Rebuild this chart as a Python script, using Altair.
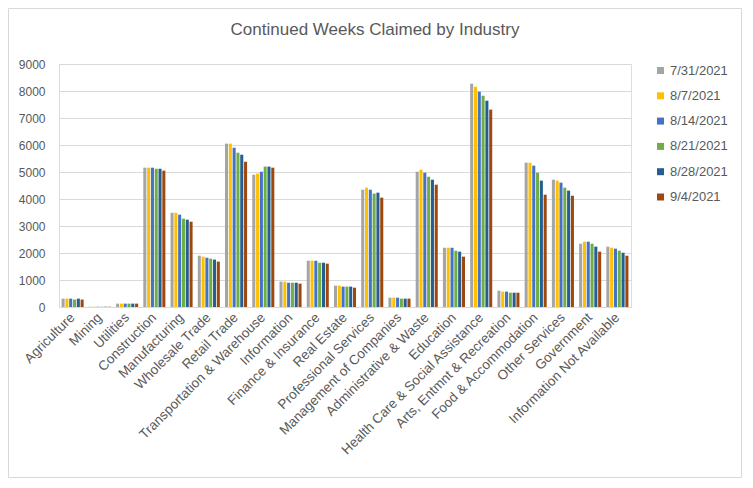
import altair as alt
import pandas as pd

industries = [
    "Agriculture", "Mining", "Utilities", "Construction", "Manufacturing",
    "Wholesale Trade", "Retail Trade", "Transportation & Warehouse",
    "Information", "Finance & Insurance", "Real Estate",
    "Professional Services", "Management of Companies",
    "Administrative & Waste", "Education", "Health Care & Social Assistance",
    "Arts, Entmnt & Recreation", "Food & Accommodation", "Other Services",
    "Government", "Information Not Available",
]
weeks = ["7/31/2021", "8/7/2021", "8/14/2021", "8/21/2021", "8/28/2021", "9/4/2021"]
colors = ["#A5A5A5", "#FFC000", "#4472C4", "#70AD47", "#255E91", "#9E480E"]
title_text = "Continued Weeks Claimed by Industry"

w_0731 = [310, 10, 125, 5160, 3490, 1900, 6050, 4900, 940, 1715, 790, 4345, 345, 5010, 2195, 8270, 605, 5345, 4715, 2345, 2235]
w_0807 = [310, 10, 125, 5160, 3490, 1865, 6050, 4940, 940, 1715, 790, 4420, 345, 5085, 2195, 8160, 570, 5345, 4680, 2420, 2195]
w_0814 = [310, 10, 125, 5160, 3420, 1825, 5900, 5010, 900, 1715, 755, 4345, 345, 4975, 2195, 7975, 570, 5235, 4605, 2420, 2160]
w_0821 = [275, 10, 125, 5120, 3270, 1790, 5715, 5200, 900, 1640, 755, 4200, 310, 4825, 2085, 7825, 530, 4975, 4420, 2345, 2085]
w_0828 = [310, 10, 125, 5120, 3235, 1755, 5640, 5200, 900, 1640, 755, 4235, 310, 4715, 2050, 7640, 530, 4680, 4310, 2235, 2010]
w_0904 = [275, 10, 125, 5050, 3160, 1680, 5380, 5160, 865, 1605, 715, 4050, 310, 4530, 1865, 7310, 530, 4160, 4125, 2050, 1900]

series = [w_0731, w_0807, w_0814, w_0821, w_0828, w_0904]

rows = []
for wk, vals in zip(weeks, series):
    for ind, v in zip(industries, vals):
        rows.append({"Industry": ind, "Week": wk, "Claims": v})
df = pd.DataFrame(rows)

FONT = "Liberation Sans"
GREY = "#595959"

bars = alt.Chart(df).mark_bar().encode(
    x=alt.X("Industry:N", sort=industries,
            scale=alt.Scale(paddingInner=0.19, paddingOuter=0.095),
            axis=alt.Axis(title=None, labelAngle=-45, labelAlign="right",
                          labelBaseline="middle", labelFontSize=13.5,
                          labelColor=GREY, labelFont=FONT, ticks=False,
                          domainColor="#d9d9d9", labelPadding=8,
                          labelLimit=300, labelOverlap=False)),
    xOffset=alt.XOffset("Week:N", sort=weeks, scale=alt.Scale(paddingInner=0.2)),
    y=alt.Y("Claims:Q", scale=alt.Scale(domain=[0, 9000]),
            axis=alt.Axis(title=None, values=list(range(0, 9001, 1000)),
                          format="d",
                          labelFontSize=12, labelColor=GREY, labelFont=FONT,
                          ticks=False, domain=False, gridColor="#d9d9d9",
                          labelPadding=14)),
    color=alt.Color("Week:N", sort=weeks,
                    scale=alt.Scale(domain=weeks, range=colors),
                    legend=alt.Legend(title=None, orient="none", legendX=595,
                                      legendY=0, symbolType="square",
                                      symbolSize=49, symbolStrokeWidth=0,
                                      labelFontSize=13, labelColor=GREY,
                                      labelFont=FONT, rowPadding=11.3,
                                      labelOffset=3)),
)

border = alt.Chart(pd.DataFrame({"a": [0]})).mark_rect(
    fill="transparent", stroke="#d9d9d9", strokeWidth=1
).encode(x=alt.value(-50.5), x2=alt.value(682.5), y=alt.value(-55.5), y2=alt.value(413.5))

title = alt.Chart(pd.DataFrame({"t": [title_text]})).mark_text(
    font=FONT, fontSize=17, color=GREY, align="center", baseline="alphabetic"
).encode(text="t:N", x=alt.value(316), y=alt.value(-29))

chart = alt.layer(bars, border, title).properties(
    width=572, height=243,
    autosize=alt.AutoSizeParams(type="none"),
    padding={"left": 51, "top": 56, "right": 114, "bottom": 173},
).configure_view(stroke=None).configure(background="white")

chart.save("out.html", embed_options={"renderer": "svg", "actions": False})
